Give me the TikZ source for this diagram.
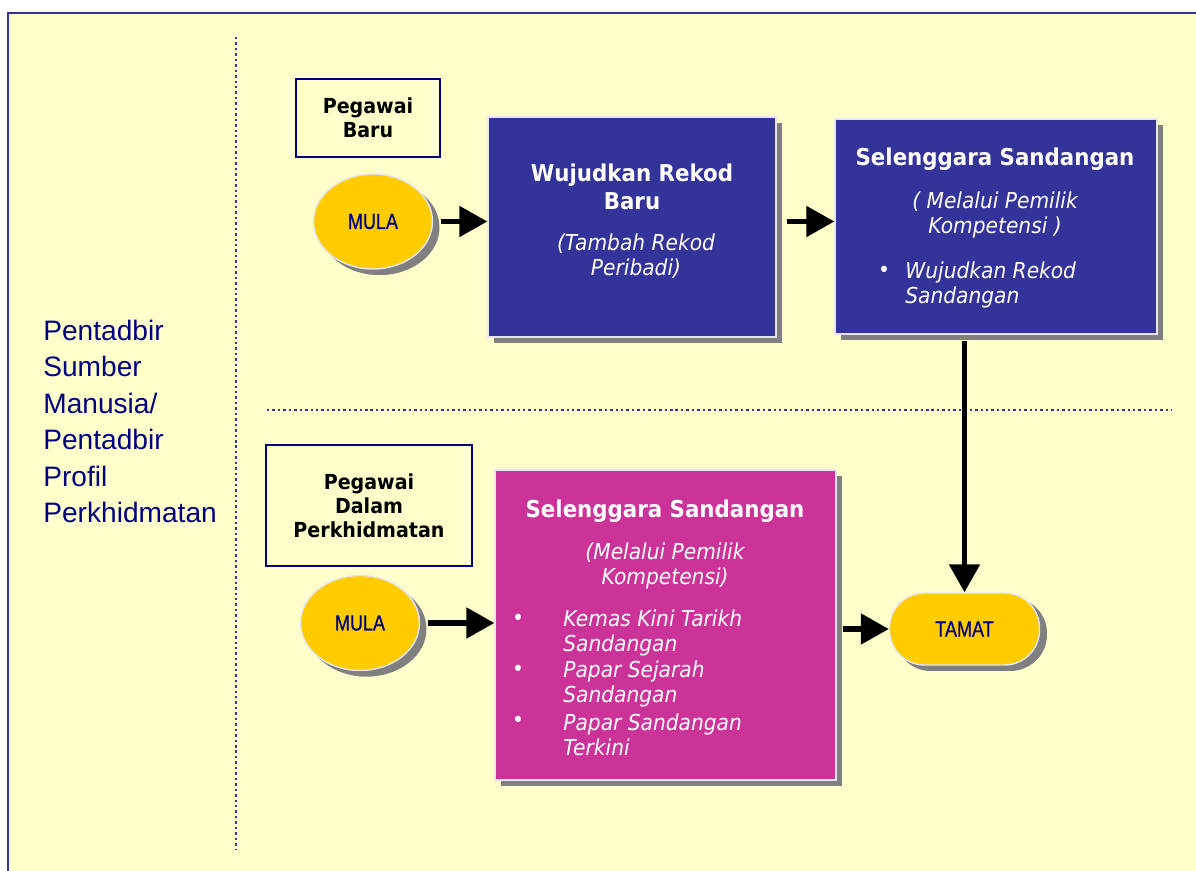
\documentclass[tikz,border=0pt]{standalone}
\usepackage{fontspec}
\setmainfont{Liberation Sans}
\newfontfamily\boxfont[FakeStretch=0.92,BoldFont={DejaVu Sans Bold},ItalicFont={DejaVu Sans Oblique}]{DejaVu Sans}
\newfontfamily\narrowfont[FakeStretch=0.82,FakeBold=0.6]{Liberation Sans}
\usetikzlibrary{arrows.meta,shapes.geometric,shadows}

\definecolor{bgyellow}{HTML}{FFFFCC}
\definecolor{boxblue}{HTML}{333399}
\definecolor{boxpink}{HTML}{CC3399}
\definecolor{startyellow}{HTML}{FFCC00}
\definecolor{shadowgray}{HTML}{808080}
\definecolor{labelnavy}{HTML}{000080}
\definecolor{rimgray}{HTML}{E6E6F0}

\begin{document}
\begin{tikzpicture}[x=0.02cm,y=-0.02cm,
  flow/.style={line width=3pt,-{Triangle[length=0.56cm,width=0.6cm]}},
  divider/.style={draw=boxblue,line width=1.4pt,dash pattern=on 1.4pt off 1.7pt},
  task/.style={draw=rimgray,line width=0.8pt,inner sep=0pt,
    drop shadow={shadow xshift=0.12cm,shadow yshift=-0.12cm,fill=shadowgray,opacity=1}},
  start/.style={task,ellipse,fill=startyellow,minimum width=2.38cm,minimum height=1.9cm,
    text=labelnavy,font=\narrowfont\fontsize{12.5}{14}\selectfont,
    drop shadow={shadow xshift=0.14cm,shadow yshift=-0.12cm,fill=shadowgray,opacity=1}},
  who/.style={draw=labelnavy,line width=1.4pt,fill=bgyellow,align=center,
    font=\boxfont\bfseries\fontsize{11.8}{13.6}\selectfont},
  title/.style={text=white,align=center,font=\boxfont\bfseries\fontsize{13.2}{16}\selectfont},
  note/.style={text=white,align=center,font=\boxfont\itshape\fontsize{12.5}{14.2}\selectfont},
  item/.style={note,align=left,anchor=west,inner sep=0pt}]
\useasboundingbox (0,0) rectangle (1196,871);
\fill[white] (0,0) rectangle (1196,871);
\fill[bgyellow] (8,13) rectangle (1196,871);
\draw[boxblue,line width=1.7pt] (8,871) -- (8,13) -- (1196,13);

% dividers
\draw[divider] (236,37) -- (236,850);
\draw[divider] (267,410) -- (1172,410);

% actor
\node[anchor=west,inner sep=0pt,align=left,text=labelnavy,font=\fontsize{16}{20.8}\selectfont] (actor) at (43,421.5)
  {Pentadbir\\Sumber\\Manusia/\\Pentadbir\\Profil\\Perkhidmatan};

% pegawai baru
\node[who,minimum width=2.88cm,minimum height=1.56cm] (baru) at (368,118) {Pegawai\\Baru};
\node[start] (mulaA) at (373,221.5) {MULA};

\node[task,fill=boxblue,minimum width=5.76cm,minimum height=4.4cm] (rekod) at (632,227) {};
\node[title] (rekodTitle) at (632,187) {Wujudkan Rekod\\Baru};
\node[note] (rekodNote) at (636,256.5) {(Tambah Rekod\\Peribadi)};

\node[task,fill=boxblue,minimum width=6.44cm,minimum height=4.3cm] (sandangan) at (996,226.5) {};
\node[title] (sandanganTitle) at (995,159) {Selenggara Sandangan};
\node[note] (sandanganNote) at (995,214.5) {( Melalui Pemilik\\Kompetensi )};
\node[note] (sandanganDot) at (884,272) {\textbullet};
\node[item] (sandanganItem) at (905,284.5) {Wujudkan Rekod\\Sandangan};

% pegawai dalam perkhidmatan
\node[who,minimum width=4.12cm,minimum height=2.42cm] (dalam) at (369,505.5) {Pegawai\\Dalam\\Perkhidmatan};
\node[start] (mulaB) at (360,623) {MULA};

\node[task,fill=boxpink,minimum width=6.82cm,minimum height=6.2cm] (kemaskini) at (665.5,625) {};
\node[title] (kemaskiniTitle) at (665,511) {Selenggara Sandangan};
\node[note] (kemaskiniNote) at (665,565.5) {(Melalui Pemilik\\Kompetensi)};
\node[note] (dotA) at (518,620) {\textbullet};
\node[note] (dotB) at (518,671) {\textbullet};
\node[note] (dotC) at (518,722) {\textbullet};
\node[item] (itemA) at (563,632.5) {Kemas Kini Tarikh\\Sandangan};
\node[item] (itemB) at (563,683.5) {Papar Sejarah\\Sandangan};
\node[item] (itemC) at (563,734.5) {Papar Sandangan\\Terkini};

\node[task,fill=startyellow,rounded corners=0.7cm,minimum width=3cm,minimum height=1.44cm,
  text=labelnavy,font=\narrowfont\fontsize{12.5}{14}\selectfont,
  drop shadow={shadow xshift=0.15cm,shadow yshift=-0.1cm,fill=shadowgray,opacity=1}] (tamat) at (964.5,629) {TAMAT};

% connectors
\draw[flow,shorten <=0.16cm] (mulaA.east) -- (mulaA.east -| rekod.west);
\draw[flow,shorten <=0.2cm] (rekod.east |- mulaA.east) -- (sandangan.west |- mulaA.east);
\draw[flow,shorten <=0.16cm] (mulaB.east) -- (mulaB.east -| kemaskini.west);
\draw[flow,shorten <=0.12cm] (kemaskini.east |- tamat.west) -- (tamat.west);
\draw[flow,shorten <=0.12cm] (tamat.north |- sandangan.south) -- (tamat.north);
\end{tikzpicture}
\end{document}
